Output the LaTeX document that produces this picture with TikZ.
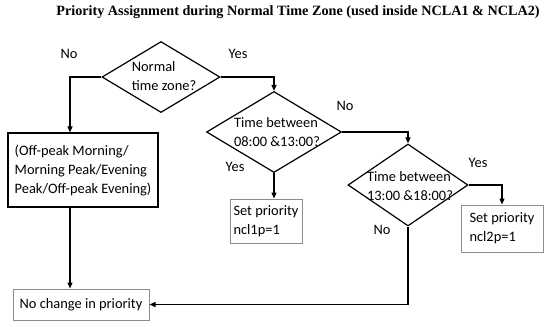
\documentclass[tikz,border=0pt]{standalone}
\usepackage{fontspec}
\setmainfont{Carlito}
\newfontfamily\titlefont{Liberation Serif}
\usepackage{xcolor}
\definecolor{boxgray}{HTML}{8C8C8C}
\usetikzlibrary{arrows.meta, shapes.geometric, positioning}

\begin{document}
\begin{tikzpicture}[x=1pt, y=-1pt, >={Triangle[length=6pt,width=5pt]},
    decision/.style={draw, diamond, inner sep=0pt, line width=1.2pt},
    dtext/.style={align=left, font=\fontsize{14.4}{19}\selectfont, inner sep=0pt},
    stepbox/.style={draw=boxgray, line width=1pt, align=left,
                    font=\fontsize{14.4}{19}\selectfont},
    flow/.style={->, line width=1.2pt},
    answer/.style={font=\fontsize{14.4}{17}\selectfont, inner sep=0pt}]
  \useasboundingbox (0,0) rectangle (550,327);

  \node[font=\titlefont\bfseries\fontsize{14.2}{17}\selectfont] (title) at (298,12)
    {Priority Assignment during Normal Time Zone (used inside NCLA1 \& NCLA2)};

  % decisions
  \node[decision, minimum width=118, minimum height=71] (zone) at (161,77) {};
  \node[dtext] (zonetxt) at (164,76) {Normal\\time zone?};

  \node[decision, minimum width=135, minimum height=81] (morn) at (274,132) {};
  \node[dtext] (morntxt) at (277,132) {Time between\\08:00 \&13:00?};

  \node[decision, minimum width=120, minimum height=82] (even) at (408,185) {};
  \node[dtext] (eventxt) at (410,186) {Time between\\13:00 \&18:00?};

  % boxes
  \node[stepbox, draw=black, line width=1.2pt, minimum width=150, minimum height=74]
    (peaks) at (83,170) {(Off-peak Morning/\\Morning Peak/Evening\\Peak/Off-peak Evening)};
  \node[stepbox, minimum width=72, minimum height=44] (ncl1) at (266,221)
    {Set priority\\ncl1p=1};
  \node[stepbox, minimum width=82, minimum height=47] (ncl2) at (502,228.5)
    {Set priority\\ncl2p=1};
  \node[stepbox, minimum width=136, minimum height=31] (keep) at (81,304.5)
    {No change in priority};

  \coordinate (lft) at (70,0);

  % connectors
  \draw[flow] (zone.west) -| (lft |- peaks.north);
  \draw[flow] (lft |- peaks.south) -- (lft |- keep.north);
  \draw[flow] (zone.east) -| (morn.north);
  \draw[flow] (morn.south) -- (morn.south |- ncl1.north);
  \draw[flow] (morn.east) -| (even.north);
  \draw[flow] (even.east) -| (ncl2.north);
  \draw[flow] (even.south) |- (keep.east);

  % answers
  \node[answer] (zoneno) at (69,54) {No};
  \node[answer] (zoneyes) at (238,54) {Yes};
  \node[answer] (mornno) at (345,106) {No};
  \node[answer] (mornyes) at (235,167) {Yes};
  \node[answer] (evenyes) at (478,163) {Yes};
  \node[answer] (evenno) at (382,230) {No};
\end{tikzpicture}
\end{document}
